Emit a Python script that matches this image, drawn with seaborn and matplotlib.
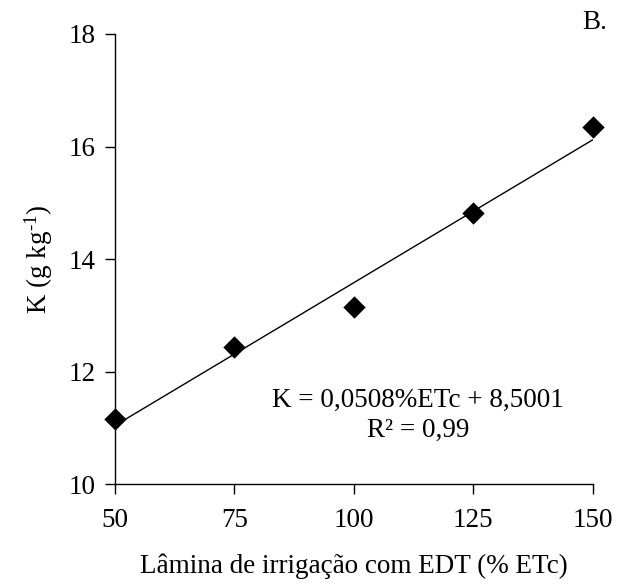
import matplotlib
matplotlib.use("Agg")
import matplotlib.pyplot as plt
import seaborn as sns
import numpy as np
import pandas as pd

# Data
lamina = [50, 75, 100, 125, 150]
k_vals = [11.16, 12.44, 13.15, 14.82, 16.35]
slope = 0.0508
intercept = 8.5001
x_ticks = [50, 75, 100, 125, 150]
y_ticks = [10, 12, 14, 16, 18]

sns.set_theme(style="ticks")
plt.rcParams['font.family'] = ['Liberation Serif', 'DejaVu Serif']
plt.rcParams['mathtext.fontset'] = 'custom'
plt.rcParams['mathtext.rm'] = 'Liberation Serif'
plt.rcParams['mathtext.it'] = 'Liberation Serif'

FS = 19.5

fig = plt.figure(figsize=(6.3, 5.86), dpi=100)
ax = fig.add_axes([0.1825, 0.174, 0.7585, 0.768])

df = pd.DataFrame({"x": lamina, "y": k_vals})
line_x = np.array([min(lamina), max(lamina)])
fit_df = pd.DataFrame({"x": line_x, "y": slope * line_x + intercept})

sns.lineplot(data=fit_df, x="x", y="y", ax=ax, color="black", linewidth=1.0)
sns.scatterplot(data=df, x="x", y="y", ax=ax, marker="D", s=130, color="black",
                edgecolor="black", linewidth=0, zorder=3, clip_on=False)

ax.set_xlim(50, 150)
ax.set_ylim(10, 18)
ax.set_xticks(x_ticks)
ax.set_yticks(y_ticks)
ax.tick_params(axis="both", labelsize=FS, colors="black", length=7, width=1.0,
               direction="out")
ax.tick_params(axis="x", pad=10)
ax.tick_params(axis="y", pad=7)
for side in ["top", "right"]:
    ax.spines[side].set_visible(False)
for side in ["left", "bottom"]:
    ax.spines[side].set_color("black")
    ax.spines[side].set_linewidth(1.0)

ax.set_xlabel("Lâmina de irrigação com EDT (% ETc)", fontsize=FS, color="black", labelpad=15)
ax.set_ylabel(r"K (g kg$^{\text{-1}}$)", fontsize=FS, color="black", labelpad=10)

ax.text(0.634, 0.153, "K = 0,0508%ETc + 8,5001\nR² = 0,99", transform=ax.transAxes,
        ha="center", va="center", fontsize=FS, linespacing=1.25, color="black")
fig.text(0.963, 0.962, "B.", ha="right", va="center", fontsize=FS, color="black")

fig.savefig("out.png", dpi=100)
